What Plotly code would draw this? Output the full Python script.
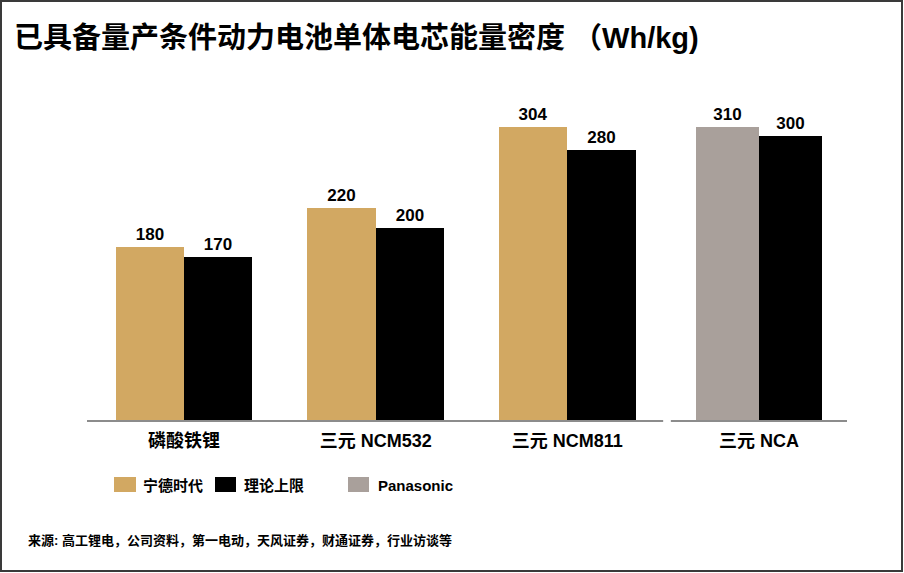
import plotly.graph_objects as go

# ---- data ----
categories = ["磷酸铁锂", "三元 NCM532", "三元 NCM811", "三元 NCA"]
series_names = ["宁德时代", "理论上限", "Panasonic"]
catl_values = [180, 220, 304]          # 宁德时代, first three categories
theory_values = [170, 200, 280, 300]   # 理论上限, all categories
panasonic_values = [310]               # Panasonic, NCA only
title_text = "已具备量产条件动力电池单体电芯能量密度 （Wh/kg)"
source_text = "来源: 高工锂电，公司资料，第一电动，天风证券，财通证券，行业访谈等"

# ---- styling ----
GOLD = "#D2A862"
BLACK = "#000000"
GRAY = "#A9A09B"
AXIS = "#8C8C8C"
FONT = "Liberation Sans, Arial, Noto Sans CJK SC, sans-serif"

W, H = 904, 573
ML, MR, MT, MB = 87, 57, 100, 152
PW, PH = W - ML - MR, H - MT - MB


def px(xp):
    return (xp - ML) / PW


def py(yp):
    return (H - MB - yp) / PH


bw = 0.357
bw4 = 0.327
idx = list(range(len(catl_values)))

label_font = dict(size=17, color="black", family=FONT, weight="bold")

fig = go.Figure()
fig.add_trace(go.Bar(
    x=[i - bw / 2 for i in idx], y=catl_values, width=bw,
    marker=dict(color=GOLD, line=dict(width=0)), name=series_names[0],
    texttemplate="%{y}", textposition="outside", cliponaxis=False,
    textfont=label_font, showlegend=False))
fig.add_trace(go.Bar(
    x=[i + bw / 2 for i in idx], y=theory_values[:3], width=bw,
    marker=dict(color=BLACK, line=dict(width=0)), name=series_names[1],
    texttemplate="%{y}", textposition="outside", cliponaxis=False,
    textfont=label_font, showlegend=False))
fig.add_trace(go.Bar(
    x=[3 - bw4 / 2], y=panasonic_values, width=bw4, yaxis="y2",
    marker=dict(color=GRAY, line=dict(width=0)), name=series_names[2],
    texttemplate="%{y}", textposition="outside", cliponaxis=False,
    textfont=label_font, showlegend=False))
fig.add_trace(go.Bar(
    x=[3 + bw4 / 2], y=theory_values[3:], width=bw4, yaxis="y2",
    marker=dict(color=BLACK, line=dict(width=0)), name=series_names[1],
    texttemplate="%{y}", textposition="outside", cliponaxis=False,
    textfont=label_font, showlegend=False))

x_lo = (ML - 184) / 191.67
x_hi = (W - MR - 184) / 191.67

shapes = [
    dict(type="line", xref="x", yref="paper", x0=x_lo, x1=2.50, y0=0, y1=0,
         line=dict(color=AXIS, width=2), layer="above"),
    dict(type="line", xref="x", yref="paper", x0=2.54, x1=x_hi, y0=0, y1=0,
         line=dict(color=AXIS, width=2), layer="above"),
    # outer border
    dict(type="rect", xref="paper", yref="paper", x0=px(1), x1=px(902), y0=py(571), y1=py(1),
         line=dict(color="#3A3A3A", width=2)),
]

# manual legend
legend_items = [(series_names[0], GOLD, 114, 136, 141),
                (series_names[1], BLACK, 215, 236, 242),
                (series_names[2], GRAY, 348, 369, 376)]
annotations = []
for name, col, x0, x1, tx in legend_items:
    shapes.append(dict(type="rect", xref="paper", yref="paper", x0=px(x0), x1=px(x1),
                       y0=py(492), y1=py(477), fillcolor=col, line=dict(width=0)))
    annotations.append(dict(text="<b>%s</b>" % name, xref="paper", yref="paper", x=px(tx), y=py(485),
                            xanchor="left", yanchor="middle", showarrow=False,
                            font=dict(size=15, color="black", family=FONT)))

annotations.append(dict(text="<b>%s</b>" % title_text, xref="paper", yref="paper", x=px(12), y=py(38),
                        xanchor="left", yanchor="middle", showarrow=False,
                        font=dict(size=29, color="black", family=FONT)))
annotations.append(dict(text="<b>%s</b>" % source_text, xref="paper", yref="paper", x=px(26), y=py(540),
                        xanchor="left", yanchor="middle", showarrow=False,
                        font=dict(size=13, color="black", family=FONT)))

fig.update_layout(
    width=W, height=H,
    margin=dict(l=ML, r=MR, t=MT, b=MB, pad=0),
    paper_bgcolor="white", plot_bgcolor="white",
    barmode="overlay", bargap=0,
    font=dict(family=FONT, color="black"),
    xaxis=dict(range=[x_lo, x_hi], tickvals=[0, 1, 2, 3],
               ticktext=["<b>%s</b>" % c for c in categories],
               tickfont=dict(size=18, color="black", family=FONT),
               ticklabelstandoff=7,
               showgrid=False, zeroline=False, showline=False, ticks="",
               fixedrange=True),
    yaxis=dict(range=[0, PH / 0.9675], visible=False, showgrid=False, zeroline=False),
    yaxis2=dict(range=[0, PH / 0.9495], overlaying="y", visible=False, showgrid=False,
                zeroline=False),
    shapes=shapes, annotations=annotations,
    showlegend=False,
)

fig.write_html("out.html",
               config={"displayModeBar": False},
               post_script="document.body.style.margin='0';document.body.style.overflow='hidden';")
